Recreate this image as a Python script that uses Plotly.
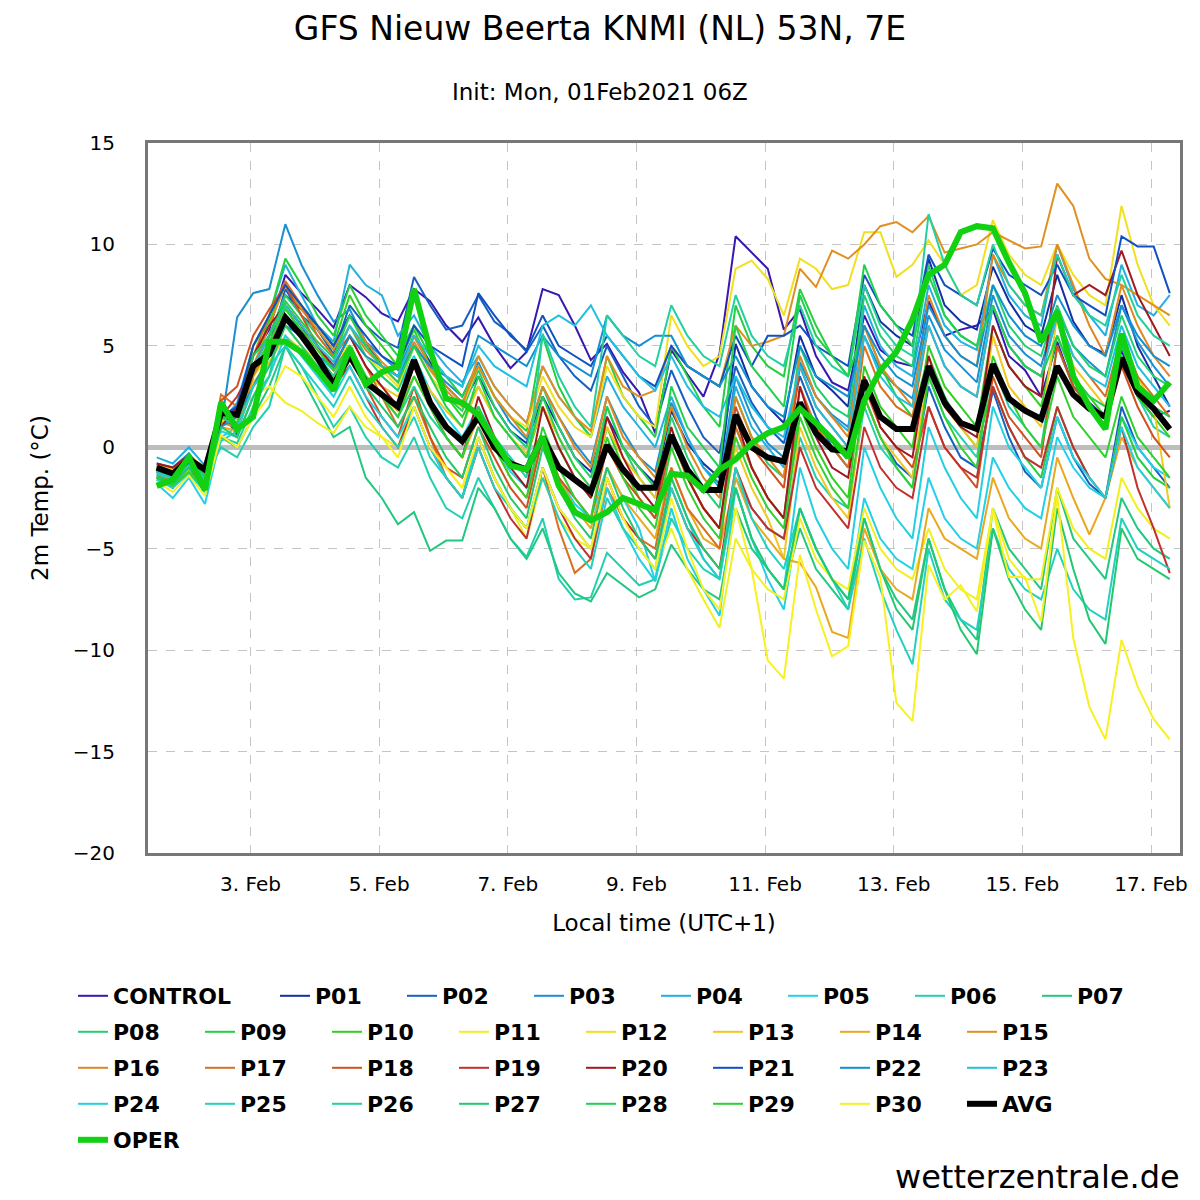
'''
GFS ensemble plume: 2m temperature, Nieuw Beerta (NL).
'''

import pandas as pd
import plotly.graph_objects as go

# Time axis: 6-hourly steps, local time (UTC+1)
times = pd.date_range('2021-02-01 13:00', periods=64, freq='6h')

# Ensemble members (2m temperature, deg C)
control = [-1.2, -1.5, -0.8, -1.6, 1.2, 1.8, 4.5, 5.8, 8.5, 7.6, 6.8, 5.9, 8.0, 7.4, 6.6, 6.2,
           7.8, 7.2, 6.0, 5.2, 6.4, 5.0, 3.9, 4.7, 7.8, 7.5, 6.0, 4.3, 5.1, 3.7, 2.7, 0.7,
           4.8, 3.6, 2.5, 4.6, 10.4, 9.6, 8.8, 5.8, 6.8, 4.5, 3.2, 2.8, 6.5, 4.8, 4.2, 4.0,
           7.2, 5.5, 5.8, 6.0, 6.8, 4.5, 3.8, 2.5, 5.2, 3.0, 2.2, 1.5, 4.8, 2.5, 1.5, 1.8]
p01 = [-0.9, -1.2, -0.5, -1.3, 1.5, 2.0, 4.0, 5.5, 7.5, 6.8, 6.0, 5.0, 6.5, 5.2, 4.0, 3.5,
       5.5, 4.2, 3.0, 2.2, 3.5, 2.0, 0.8, 0.2, 2.5, 1.0, -0.5, -1.2, 1.5, 0.0, -1.0, -1.8,
       1.8, 0.2, -0.8, -1.5, 5.1, 3.0, 2.0, 1.2, 5.5, 3.5, 2.8, 2.0, 8.0, 6.2, 5.5, 5.0,
       9.3, 7.0, 6.2, 5.8, 8.9, 7.2, 6.0, 5.5, 8.5, 6.2, 5.0, 4.6, 7.5, 5.0, 3.5, 2.0]
p02 = [-1.5, -2.0, -1.0, -2.2, 1.8, 0.6, 3.5, 5.0, 7.8, 6.5, 5.8, 4.6, 7.0, 6.0, 5.3, 4.9,
       8.4, 7.0, 5.8, 6.0, 7.5, 6.2, 5.6, 4.7, 6.0, 4.5, 3.5, 2.8, 5.0, 3.5, 2.0, 1.0,
       3.8, 2.0, 0.5, -0.3, 4.0, 2.2, 1.0, 0.2, 3.5, 1.5, 0.0, -1.0, 2.5, 0.5, -0.8, -1.5,
       3.0, 1.0, -0.5, -1.0, 2.8, 0.5, -1.2, -2.0, 1.5, -0.5, -1.8, -2.5, 2.0, 0.0, -1.0, -2.0]
p03 = [-0.8, -1.0, -0.3, -1.2, 1.0, 6.4, 7.6, 7.8, 11.0, 9.0, 7.5, 6.2, 6.8, 5.2, 4.5, 3.8,
       5.5, 4.0, 3.2, 2.5, 4.2, 2.5, 1.2, 0.4, 3.0, 1.5, 0.2, -0.8, 2.5, 0.8, -0.5, -1.2,
       2.2, 0.5, -1.0, -1.8, 3.5, 1.5, 0.2, -0.5, 4.2, 2.5, 1.6, 1.0, 5.5, 3.8, 3.0, 2.4,
       6.5, 4.8, 4.0, 3.2, 7.5, 5.5, 4.6, 4.0, 6.8, 5.0, 4.2, 3.5, 7.0, 5.2, 4.0, 3.0]
p04 = [-0.5, -0.8, 0.0, -0.9, 1.2, 2.2, 5.0, 6.5, 9.0, 7.5, 6.0, 5.2, 9.0, 8.0, 7.5, 5.5,
       6.5, 5.0, 4.0, 3.2, 4.5, 3.0, 2.0, 1.2, 4.0, 2.5, 1.5, 0.5, 3.5, 2.0, 1.0, 0.0,
       2.5, 0.5, -1.0, -2.0, 3.0, 1.0, 0.0, -1.0, 4.5, 2.5, 1.5, 0.8, 7.0, 5.0, 4.0, 3.5,
       8.0, 6.0, 5.2, 4.8, 9.5, 7.5, 6.5, 6.0, 10.0, 7.8, 6.5, 5.5, 9.0, 7.0, 6.5, 7.5]
p05 = [-1.8, -2.5, -1.5, -2.8, 0.5, 1.0, 3.0, 4.0, 6.5, 5.5, 4.5, 3.8, 5.5, 4.5, 3.5, 2.8,
       4.5, 2.8, 1.5, 0.5, 2.0, 0.0, -1.2, -2.0, 0.5, -1.5, -2.8, -3.5, -1.0, -2.5, -4.0, -6.6,
       -1.5, -3.5, -5.5, -6.5, -2.0, -4.5, -6.5, -8.0, -3.0, -5.0, -6.5, -7.5, -2.5, -4.5, -5.5, -6.0,
       -1.5, -3.5, -4.5, -5.0, -0.5, -2.0, -3.0, -3.5, 0.5, -1.0, -2.0, -2.5, 1.5, 0.0, -1.0, -1.5]
p06 = [-1.0, -1.3, -0.5, -1.5, 0.0, -0.5, 1.0, 2.0, 5.0, 4.0, 2.5, 1.0, 2.0, 0.5, -0.5, -1.0,
       0.5, -1.5, -3.0, -3.5, -1.5, -3.0, -4.5, -5.4, -3.5, -6.5, -7.5, -7.4, -5.2, -6.0, -6.8, -6.5,
       -3.5, -5.0, -6.0, -6.5, -1.5, -3.0, -4.0, -4.5, 0.5, -1.5, -2.5, -3.0, 2.0, 0.0, -1.0, -2.0,
       3.5, 1.5, 0.5, -0.5, 4.0, 2.0, 1.0, 0.0, 5.0, 3.0, 2.0, 1.0, 4.5, 2.5, 1.0, 0.5]
p07 = [-1.2, -1.6, -0.9, -1.8, 0.5, 0.0, 1.5, 3.0, 5.0, 3.5, 2.0, 0.5, 1.0, -1.5, -2.5, -3.8,
       -3.2, -5.1, -4.6, -4.6, -2.0, -3.0, -4.5, -5.5, -4.0, -6.2, -7.2, -7.6, -6.2, -6.8, -7.4, -7.0,
       -4.8, -6.0, -7.0, -7.5, -3.0, -5.0, -6.0, -7.0, -4.0, -6.0, -7.0, -8.0, -3.5, -6.0, -7.5, -8.5,
       -4.5, -7.0, -8.5, -9.5, -3.0, -5.0, -6.0, -7.0, -2.0, -4.5, -5.5, -6.5, -2.5, -4.0, -5.0, -5.5]
p08 = [-1.3, -1.7, -1.0, -2.0, 1.5, 1.2, 4.0, 5.5, 7.5, 6.5, 5.5, 4.5, 6.0, 4.5, 3.5, 2.8,
       5.0, 3.5, 2.5, 1.8, 3.8, 2.0, 0.8, 0.0, 3.0, 1.0, -0.5, -1.5, 2.0, 0.0, -1.5, -2.5,
       1.5, -0.5, -2.0, -3.0, 2.5, 0.5, -0.8, -1.5, 5.0, 3.0, 2.0, 1.5, 7.5, 5.5, 4.5, 4.0,
       9.0, 6.5, 5.5, 5.0, 8.0, 6.0, 5.0, 4.5, 7.0, 5.0, 4.0, 3.5, 6.5, 4.5, 3.5, 3.0]
p09 = [-1.6, -1.9, -1.2, -2.1, 2.0, 1.5, 3.5, 6.5, 9.3, 8.0, 6.5, 5.5, 8.0, 6.5, 5.5, 4.5,
       6.0, 4.5, 3.5, 2.5, 4.0, 2.5, 1.5, 0.8, 5.5, 3.0, 1.5, 0.5, 4.5, 2.5, 1.5, 0.5,
       5.0, 3.5, 2.0, 1.0, 7.0, 5.0, 4.0, 3.5, 7.8, 6.0, 4.5, 3.5, 6.0, 4.0, 2.5, 1.5,
       4.5, 2.5, 1.0, 0.0, 3.0, 1.0, -0.5, -1.5, 2.0, 0.0, -1.5, -2.5, 1.5, -0.5, -1.5, -2.0]
p10 = [-1.1, -1.4, -0.6, -1.7, 1.8, 1.0, 5.0, 6.2, 8.0, 7.0, 6.0, 5.0, 7.5, 6.0, 5.0, 4.0,
       5.8, 4.0, 2.5, 1.5, 3.0, 1.5, 0.5, -0.5, 2.0, 0.0, -1.5, -2.5, 1.0, -1.0, -2.5, -3.5,
       0.5, -1.5, -3.0, -4.0, 1.0, -1.0, -2.5, -3.5, 2.0, 0.0, -1.5, -2.5, 4.0, 2.0, 1.0, 0.0,
       5.0, 3.0, 2.0, 1.0, 6.0, 4.0, 3.0, 2.0, 5.5, 3.5, 2.5, 1.5, 4.5, 2.5, 1.5, 0.5]
p11 = [-1.4, -1.8, -1.1, -2.0, 1.0, 0.5, 2.5, 3.0, 2.2, 1.8, 1.2, 0.7, 2.0, 1.0, 0.5, 0.0,
       2.5, 0.5, -1.0, -2.0, 0.5, -1.5, -3.0, -4.5, -1.5, -3.5, -4.5, -5.0, -2.0, -4.0, -5.0, -6.0,
       -4.0, -6.0, -7.5, -8.9, -4.5, -6.0, -7.0, -7.5, -3.5, -5.5, -6.5, -7.0, -3.0, -5.0, -6.0, -6.5,
       -4.0, -6.0, -7.0, -7.5, -3.0, -5.5, -6.5, -6.5, -2.0, -4.0, -5.0, -5.5, -1.5, -3.0, -4.0, -4.5]
p12 = [-1.0, -1.3, -0.7, -1.4, 1.3, 1.5, 3.5, 4.5, 6.0, 5.0, 4.2, 3.5, 5.5, 4.5, 3.8, 3.0,
       5.0, 3.5, 2.5, 2.0, 4.0, 2.5, 1.5, 1.0, 3.5, 2.0, 1.0, 0.5, 4.0, 2.5, 1.5, 1.0,
       6.5, 5.0, 4.0, 4.5, 8.8, 9.2, 8.3, 6.5, 9.3, 8.8, 7.8, 8.0, 10.6, 10.6, 8.4, 9.0,
       10.2, 9.0, 7.5, 8.0, 11.2, 9.5, 8.5, 8.0, 10.0, 8.5, 7.5, 7.0, 11.9, 9.0, 7.0, 6.0]
p13 = [-0.9, -1.1, -0.4, -1.0, 1.2, 1.4, 3.2, 4.2, 5.5, 4.8, 4.0, 3.3, 4.5, 3.5, 3.0, 2.5,
       4.0, 2.8, 1.8, 1.0, 3.0, 1.5, 0.5, -0.3, 2.0, 0.5, -1.0, -2.0, 1.0, -0.5, -1.5, -2.5,
       0.5, -1.5, -3.0, -4.0, 0.0, -2.0, -3.5, -5.5, 1.0, -1.0, -2.5, -3.5, 2.5, 0.5, -0.5, -1.5,
       4.0, 2.0, 1.0, 0.0, 5.5, 3.0, 2.0, 1.0, 6.5, 4.0, 3.0, 2.0, 5.5, 3.5, 2.0, -3.0]
p14 = [-1.2, -1.5, -0.8, -1.6, 1.0, 0.8, 3.0, 4.5, 6.5, 5.5, 4.5, 3.5, 5.0, 3.5, 2.5, 1.8,
       3.5, 2.0, 0.5, -0.5, 1.5, 0.0, -1.5, -2.5, 0.5, -1.5, -3.0, -4.0, -1.0, -2.5, -3.5, -4.5,
       -1.0, -3.0, -4.5, -5.0, -1.5, -3.5, -4.5, -5.5, -5.7, -6.9, -9.1, -9.4, -4.0, -6.0, -7.0, -7.5,
       -3.0, -4.5, -5.0, -5.5, -1.5, -3.5, -4.5, -5.0, -0.5, -2.5, -4.3, -2.5, 0.5, -1.0, -2.0, -3.0]
p15 = [-1.3, -1.6, -0.9, -1.7, 1.5, 1.8, 4.0, 6.0, 8.0, 6.8, 5.8, 4.8, 6.5, 5.2, 4.2, 3.5,
       5.2, 3.8, 2.8, 2.0, 4.5, 3.0, 2.0, 1.2, 4.0, 2.5, 1.5, 0.8, 4.5, 3.0, 2.5, 2.8,
       5.0, 4.0, 3.5, 3.0, 6.0, 5.0, 5.2, 5.5, 8.8, 7.9, 9.7, 9.3, 10.0, 10.9, 11.1, 10.6,
       11.4, 9.6, 9.8, 10.0, 10.6, 10.2, 9.8, 9.9, 13.0, 11.9, 9.3, 8.3, 8.0, 7.5, 7.0, 6.5]
p16 = [-1.1, -1.4, -0.7, -1.5, 1.2, 1.0, 3.5, 5.0, 7.0, 6.0, 5.0, 4.2, 6.0, 4.8, 4.0, 3.2,
       5.5, 4.0, 3.0, 2.2, 4.0, 2.5, 1.5, 0.5, 3.0, 1.5, 0.0, -1.0, 2.5, 0.5, -0.5, -1.5,
       2.0, 0.0, -1.5, -2.5, 2.5, 0.5, -0.5, -1.5, 4.5, 2.5, 1.5, 0.5, 6.0, 4.0, 3.0, 2.0,
       7.5, 5.5, 4.5, 4.0, 9.5, 8.0, 7.0, 6.5, 10.0, 8.0, 6.0, 4.5, 8.0, 6.0, 4.5, 3.5]
p17 = [-1.4, -1.7, -0.9, -1.9, 2.6, 2.0, 4.5, 6.5, 8.2, 7.0, 5.5, 4.5, 5.5, 4.0, 2.5, 1.0,
       2.5, 0.5, -1.5, -2.5, 0.5, -1.5, -3.0, -4.0, -1.0, -4.0, -6.2, -5.5, -2.0, -3.5, -4.5, -5.0,
       -1.0, -3.0, -4.0, -5.0, 1.0, -1.0, -2.5, -3.5, 3.0, 1.0, 0.0, -1.0, 5.0, 3.0, 2.0, 1.5,
       6.0, 4.0, 3.0, 2.5, 7.0, 5.0, 4.0, 3.5, 6.5, 4.5, 3.5, 2.5, 5.5, 3.5, 2.5, 1.5]
p18 = [-1.0, -1.2, -0.5, -1.3, 2.3, 3.0, 5.5, 6.8, 8.0, 6.5, 5.0, 3.8, 5.0, 3.0, 1.5, 0.5,
       3.0, 0.5, -1.0, -1.5, 1.0, -0.5, -2.0, -3.0, 0.5, -1.5, -2.5, -3.5, 0.0, -1.5, -2.5, -3.5,
       0.5, -1.5, -3.0, -4.0, 2.0, 0.0, -1.0, -2.0, 4.0, 2.0, 1.0, 0.0, 3.0, 1.0, 0.0, -1.0,
       2.0, 0.0, -1.0, -2.0, 3.5, 1.5, 0.5, -0.5, 5.0, 3.0, 2.0, 1.0, 4.0, 2.0, 0.5, -0.5]
p19 = [-1.2, -1.4, -0.6, -1.6, 1.5, 2.5, 4.0, 5.5, 7.0, 6.0, 4.5, 3.0, 4.0, 2.5, 1.0, 0.0,
       2.0, 0.0, -1.5, -2.5, 0.0, -2.0, -3.5, -4.5, -1.0, -3.0, -4.5, -5.5, -1.5, -3.5, -4.5, -5.5,
       -2.0, -4.0, -5.0, -6.0, -1.0, -3.0, -4.0, -4.5, 0.0, -2.0, -3.0, -4.0, 1.0, -1.0, -2.0, -2.5,
       2.0, 0.0, -1.0, -1.5, 3.0, 1.0, -0.5, -1.0, 2.0, 0.0, -1.5, -2.5, 1.0, -2.0, -4.0, -6.2]
p20 = [-0.8, -1.0, -0.4, -1.1, 1.0, 2.0, 4.5, 6.0, 7.0, 6.0, 5.0, 4.0, 5.5, 4.0, 3.0, 2.0,
       4.0, 2.0, 0.5, -0.5, 2.5, 0.5, -1.0, -2.0, 2.0, 0.0, -1.5, -2.5, 1.5, -0.5, -2.0, -3.0,
       1.0, -1.5, -3.0, -4.0, 1.5, -1.0, -2.5, -3.5, 3.0, 0.5, -1.0, -1.5, 3.5, 1.0, 0.0, -0.5,
       4.5, 2.0, 1.0, 0.5, 6.0, 4.0, 3.0, 2.5, 9.5, 7.5, 8.0, 7.5, 9.7, 7.5, 6.0, 4.5]
p21 = [-1.5, -1.8, -1.0, -2.0, 1.5, 2.0, 5.0, 6.5, 8.0, 7.0, 6.0, 5.0, 6.5, 5.5, 4.5, 4.0,
       6.0, 5.0, 4.5, 4.0, 7.6, 6.5, 5.5, 4.8, 6.5, 5.0, 4.5, 4.0, 5.5, 4.5, 3.5, 3.0,
       5.0, 4.0, 3.5, 3.0, 5.5, 4.0, 5.5, 5.5, 6.0, 5.0, 4.5, 4.0, 8.5, 7.0, 6.0, 5.5,
       9.5, 8.0, 7.5, 7.0, 9.8, 8.5, 8.0, 7.5, 9.0, 7.5, 7.0, 6.5, 10.4, 9.9, 9.9, 7.6]
p22 = [-1.1, -1.3, -0.6, -1.4, 1.0, 1.5, 3.0, 4.5, 6.0, 5.5, 4.5, 4.0, 5.5, 4.5, 4.0, 3.5,
       5.0, 4.0, 3.5, 3.0, 5.5, 5.0, 4.5, 4.0, 5.5, 4.5, 4.0, 3.5, 6.5, 5.5, 5.0, 5.5,
       5.5, 4.0, 3.5, 3.0, 4.5, 3.0, 2.0, 1.5, 5.0, 3.5, 3.0, 2.5, 6.0, 4.5, 3.5, 3.0,
       7.0, 5.5, 4.5, 4.0, 8.0, 6.5, 5.5, 5.0, 7.5, 6.0, 5.0, 4.5, 7.0, 5.5, 4.5, 4.0]
p23 = [-1.2, -1.5, -0.8, -1.6, 1.5, 1.0, 4.0, 5.5, 7.0, 6.0, 5.0, 4.2, 6.0, 5.0, 4.0, 3.5,
       5.5, 4.5, 3.5, 3.0, 5.0, 4.0, 3.5, 3.0, 6.0, 6.5, 6.0, 7.0, 5.5, 4.5, 3.5, 2.8,
       4.5, 3.0, 2.0, 1.5, 3.5, 2.0, 1.0, 0.5, 4.0, 2.0, 1.0, 0.0, 5.5, 3.5, 2.5, 2.0,
       6.0, 4.0, 3.0, 2.5, 7.0, 5.0, 4.0, 3.5, 6.5, 4.5, 3.5, 3.0, 6.0, 4.0, 3.0, 2.0]
p24 = [-1.6, -2.0, -1.3, -2.2, 0.8, 0.5, 2.5, 3.5, 5.5, 4.5, 3.5, 2.5, 4.0, 2.5, 1.5, 0.5,
       2.0, 0.0, -1.5, -2.5, 0.5, -1.5, -3.0, -4.0, -1.0, -3.0, -4.0, -5.0, -2.0, -4.0, -5.5, -6.6,
       -3.0, -5.5, -7.0, -8.3, -2.0, -4.5, -6.0, -7.0, -1.0, -3.5, -5.0, -6.0, 0.0, -2.0, -3.5, -4.5,
       1.0, -1.0, -2.5, -3.5, 2.0, 0.0, -1.0, -2.0, 1.5, -0.5, -1.5, -2.5, 1.0, -1.0, -2.0, -3.0]
p25 = [-1.3, -1.6, -0.9, -1.7, 0.3, 0.8, 3.0, 4.0, 5.0, 4.0, 3.0, 2.0, 3.5, 2.0, 1.0, 0.0,
       1.5, -0.5, -1.5, -2.5, 0.0, -2.0, -3.0, -4.0, -1.5, -3.5, -5.0, -6.0, -2.5, -4.0, -5.0, -6.0,
       -2.0, -4.0, -5.5, -6.5, -1.0, -3.5, -5.0, -6.0, -3.0, -5.0, -6.5, -8.0, -4.5, -7.0, -9.0, -10.7,
       -5.0, -7.5, -8.5, -9.0, -4.0, -6.0, -7.0, -7.5, -5.0, -7.0, -8.0, -8.5, -3.5, -5.0, -5.5, -6.0]
p26 = [-1.1, -1.5, -0.7, -1.5, 0.5, 0.2, 2.0, 3.5, 7.0, 5.5, 4.5, 3.5, 5.0, 3.5, 2.5, 1.5,
       3.0, 1.5, 0.5, -0.5, 2.0, 0.5, -0.5, -1.5, 5.6, 3.5, 2.0, 1.0, 6.5, 5.5, 4.5, 4.0,
       7.0, 5.5, 4.5, 4.0, 7.5, 5.5, 4.5, 4.0, 7.0, 5.0, 4.0, 3.5, 8.0, 6.0, 5.0, 4.5,
       11.5, 9.0, 7.5, 7.0, 10.0, 8.0, 7.0, 6.5, 9.5, 7.5, 6.5, 6.0, 8.5, 6.5, 5.5, 5.0]
p27 = [-1.4, -1.8, -1.0, -1.9, 1.0, 0.5, 2.5, 4.0, 6.0, 5.0, 4.0, 3.0, 4.5, 3.0, 2.0, 1.0,
       2.5, 1.0, -0.5, -1.5, 1.0, -1.0, -2.5, -3.5, 0.0, -2.0, -3.5, -4.5, -1.0, -3.0, -4.5, -5.5,
       -1.5, -3.5, -5.0, -6.0, -2.0, -4.5, -6.0, -7.0, -3.0, -5.0, -6.5, -7.5, -3.5, -6.0, -8.0, -9.0,
       -4.5, -7.0, -9.0, -10.2, -4.0, -6.5, -8.0, -9.0, -3.0, -6.0, -8.5, -9.7, -4.0, -5.5, -6.0, -6.5]
p28 = [-1.0, -1.3, -0.6, -1.4, 1.4, 1.6, 4.5, 5.5, 7.2, 6.2, 5.2, 4.4, 6.5, 5.0, 4.0, 3.2,
       5.0, 3.5, 2.0, 1.0, 3.5, 1.5, 0.5, -0.5, 2.5, 0.5, -1.0, -2.0, 2.0, 0.0, -1.0, -2.0,
       3.0, 1.0, 0.0, -1.0, 6.0, 4.0, 3.0, 2.0, 7.5, 5.5, 4.5, 3.5, 9.0, 7.0, 6.0, 5.0,
       8.5, 6.5, 5.5, 5.0, 7.0, 5.0, 4.0, 3.5, 5.5, 3.5, 2.5, 2.0, 5.0, 3.0, 2.0, 1.5]
p29 = [-1.5, -1.9, -1.2, -2.1, 1.6, 1.2, 3.8, 5.2, 6.8, 5.8, 4.8, 3.8, 5.0, 3.5, 2.5, 1.5,
       3.5, 2.0, 0.5, -0.5, 2.0, 0.0, -1.5, -2.5, 1.0, -1.0, -2.5, -3.5, 0.5, -1.5, -3.0, -4.0,
       0.0, -2.0, -3.5, -4.5, 0.5, -1.5, -3.0, -4.0, 1.5, -0.5, -2.0, -3.0, 2.5, 0.5, -1.0, -2.0,
       3.5, 1.5, 0.0, -1.0, 4.5, 2.5, 1.0, 0.0, 3.5, 1.5, 0.5, -0.5, 2.5, 0.5, -0.5, -1.5]
p30 = [-1.7, -2.2, -1.4, -2.4, 0.6, 0.0, 1.5, 2.5, 4.0, 3.5, 2.5, 1.5, 3.0, 1.5, 0.5, -0.5,
       2.0, 0.0, -1.0, -2.0, 0.5, -1.5, -3.0, -4.0, -1.0, -3.0, -4.0, -5.0, -1.5, -3.5, -5.0, -6.0,
       -2.5, -5.0, -7.0, -8.0, -3.0, -6.0, -10.5, -11.4, -5.3, -8.0, -10.3, -9.8, -4.6, -6.4, -12.6, -13.5,
       -5.8, -7.5, -6.8, -8.1, -3.1, -6.4, -6.4, -8.6, -2.4, -9.4, -12.8, -14.4, -9.5, -11.8, -13.4, -14.4]

# Ensemble mean and operational run
avg = [-1.0, -1.3, -0.6, -1.1, 1.7, 1.6, 4.0, 4.6, 6.4, 5.5, 4.4, 3.1, 4.5, 3.2, 2.6, 2.0,
       4.3, 2.2, 1.0, 0.3, 1.5, 0.0, -0.8, -1.1, 0.5, -1.0, -1.6, -2.2, 0.1, -1.1, -2.0, -2.0,
       0.6, -1.1, -2.1, -2.1, 1.6, 0.0, -0.5, -0.7, 2.2, 0.7, -0.1, -0.2, 3.3, 1.5, 0.9, 0.9,
       4.0, 2.2, 1.2, 0.9, 4.1, 2.4, 1.8, 1.4, 4.0, 2.6, 1.9, 1.5, 4.4, 2.7, 1.9, 0.9]
oper = [-1.9, -1.6, -0.5, -2.1, 2.2, 0.9, 1.5, 5.2, 5.2, 4.7, 3.8, 2.8, 4.9, 3.1, 3.7, 4.0,
        7.8, 4.8, 2.4, 2.2, 1.6, 0.4, -0.9, -1.1, 0.5, -1.9, -3.2, -3.6, -3.2, -2.5, -2.8, -3.1,
        -1.3, -1.4, -2.1, -1.1, -0.6, 0.2, 0.7, 1.0, 1.9, 1.2, 0.4, -0.5, 2.3, 3.8, 4.7, 6.3,
        8.5, 9.0, 10.6, 10.9, 10.8, 9.1, 7.6, 5.2, 6.7, 3.5, 2.0, 0.9, 5.6, 3.0, 2.3, 3.2]

members = [('CONTROL', control), ('P01', p01), ('P02', p02), ('P03', p03), ('P04', p04),
           ('P05', p05), ('P06', p06), ('P07', p07), ('P08', p08), ('P09', p09),
           ('P10', p10), ('P11', p11), ('P12', p12), ('P13', p13), ('P14', p14),
           ('P15', p15), ('P16', p16), ('P17', p17), ('P18', p18), ('P19', p19),
           ('P20', p20), ('P21', p21), ('P22', p22), ('P23', p23), ('P24', p24),
           ('P25', p25), ('P26', p26), ('P27', p27), ('P28', p28), ('P29', p29),
           ('P30', p30)]

member_colors = ['#3818b0', '#1230a0', '#1560c0', '#1a90d0', '#22b0e0', '#22d0e8', '#22d0b0',
                 '#22c880', '#22d070', '#22d040', '#30d020', '#f0f020', '#f0e020', '#f0c820',
                 '#e8a820', '#e09020', '#e08820', '#d87020', '#d05020', '#c03030', '#a01820',
                 '#1050c0', '#1090d0', '#22c0e0', '#22d0e0', '#22d0c0', '#22d0a0', '#22c870',
                 '#22d050', '#30d030', '#f8f020']

# Layout parameters
# (the page body adds an 8 px margin, so the figure is 8 px smaller
#  and every page pixel position below is shifted by that much)
offset = 8
width = 1200 - offset
height = 1200 - offset
font_family = 'DejaVu Sans'
margin = dict(l=148 - offset, r=20, t=143 - offset, b=height - (853 - offset))
plot_w = width - margin['l'] - margin['r']
plot_h = height - margin['t'] - margin['b']

xrange = ['2021-02-01 09:45', '2021-02-17 10:49']
xtickvals = ['2021-02-%02d' % d for d in range(3, 18, 2)]
xticktext = ['%d. Feb' % d for d in range(3, 18, 2)]
yrange = [-20, 15]

gridcolor = '#c4c4c4'
framecolor = '#777777'

# Font sizes
title_size = 33
subtitle_size = 23
axis_title_size = 23
tick_size = 20
legend_size = 22
watermark_size = 32


def paper_x(px):
    # page pixel -> paper x
    return (px - offset - margin['l']) / plot_w


def paper_y(py):
    # page pixel -> paper y
    return (height - margin['b'] - (py - offset)) / plot_h


# Legend: one horizontal legend per row, items 127 px apart
legend_rows = [['CONTROL', 'P01', 'P02', 'P03', 'P04', 'P05', 'P06', 'P07'],
               ['P08', 'P09', 'P10', 'P11', 'P12', 'P13', 'P14', 'P15'],
               ['P16', 'P17', 'P18', 'P19', 'P20', 'P21', 'P22', 'P23'],
               ['P24', 'P25', 'P26', 'P27', 'P28', 'P29', 'P30', 'AVG'],
               ['OPER']]
legend_names = ['legend', 'legend2', 'legend3', 'legend4', 'legend5']
legend_row_y = [996, 1032, 1068, 1104, 1140]   # row centre, page px
legend_left = 73                               # page px
entrywidth = 82


def legend_of(name):
    for k, row in enumerate(legend_rows):
        if name in row:
            return legend_names[k]
    return 'legend'


fig = go.Figure()

for (name, vals), color in zip(members, member_colors):
    trace = go.Scatter(x=times, y=vals, name=name, mode='lines',
                       line=dict(color=color, width=2),
                       legend=legend_of(name))
    if name == 'CONTROL':
        trace.legendwidth = entrywidth + 75
    fig.add_trace(trace)

fig.add_trace(go.Scatter(x=times, y=avg, name='AVG', mode='lines',
                         line=dict(color='black', width=6),
                         legend=legend_of('AVG')))
fig.add_trace(go.Scatter(x=times, y=oper, name='OPER', mode='lines',
                         line=dict(color='#12d012', width=6),
                         legend=legend_of('OPER')))

# Legends
legend_font = dict(family=font_family, size=legend_size, color='black', weight='bold')
legend_layout = {}
for name, yc in zip(legend_names, legend_row_y):
    legend_layout[name] = dict(orientation='h',
                               x=paper_x(legend_left),
                               xanchor='left',
                               y=paper_y(yc),
                               yanchor='middle',
                               entrywidth=entrywidth,
                               bgcolor='rgba(0,0,0,0)',
                               font=legend_font,
                               itemclick=False)

fig.update_layout(width=width, height=height,
                  margin=margin,
                  paper_bgcolor='white',
                  plot_bgcolor='white',
                  font=dict(family=font_family, color='black'),
                  showlegend=True,
                  title=dict(text='GFS Nieuw Beerta KNMI (NL) 53N, 7E',
                             x=(600 - offset) / width, xref='container', xanchor='center',
                             y=1 - (28 - offset) / height, yref='container', yanchor='middle',
                             font=dict(size=title_size, family=font_family, color='black')),
                  **legend_layout)

# Subtitle and watermark
fig.add_annotation(text='Init: Mon, 01Feb2021 06Z',
                   xref='paper', yref='paper',
                   x=paper_x(600), y=paper_y(92),
                   xanchor='center', yanchor='middle', showarrow=False,
                   font=dict(size=subtitle_size, family=font_family, color='black'))
fig.add_annotation(text='wetterzentrale.de',
                   xref='paper', yref='paper',
                   x=paper_x(1182), y=paper_y(1177),
                   xanchor='right', yanchor='middle', showarrow=False,
                   font=dict(size=watermark_size, family=font_family, color='black'))

# Customize x-axis
fig.update_xaxes(type='date',
                 range=xrange,
                 tickvals=xtickvals,
                 ticktext=xticktext,
                 tickfont=dict(size=tick_size, family=font_family, color='black'),
                 ticks='outside', ticklen=11, tickcolor='rgba(0,0,0,0)',
                 title=dict(text='Local time (UTC+1)', standoff=20,
                            font=dict(size=axis_title_size, family=font_family, color='black')),
                 showline=True, linewidth=3, linecolor=framecolor, mirror=True,
                 showgrid=True, gridcolor=gridcolor, gridwidth=1, griddash='dash',
                 zeroline=False, automargin=False)

# Customize y-axis
fig.update_yaxes(range=yrange,
                 tick0=-20, dtick=5,
                 tickfont=dict(size=tick_size, family=font_family, color='black'),
                 ticks='outside', ticklen=26, tickcolor='rgba(0,0,0,0)',
                 title=dict(text='2m Temp. (°C)', standoff=18,
                            font=dict(size=axis_title_size, family=font_family, color='black')),
                 showline=True, linewidth=3, linecolor=framecolor, mirror=True,
                 showgrid=True, gridcolor=gridcolor, gridwidth=1, griddash='dash',
                 zeroline=True, zerolinecolor='#bdbdbd', zerolinewidth=5,
                 automargin=False)

fig.write_html('out.html')
print('Created out.html...')
